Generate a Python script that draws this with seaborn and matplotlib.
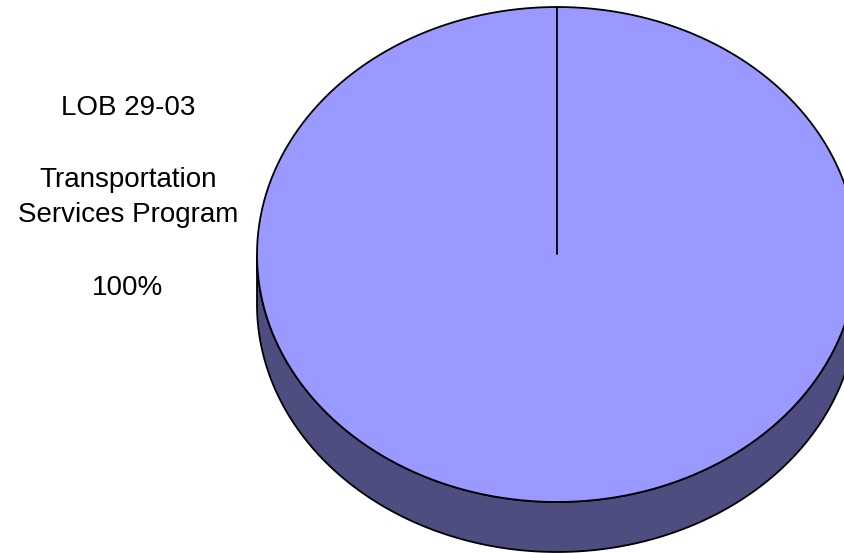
import numpy as np
import matplotlib
matplotlib.use("Agg")
import matplotlib.pyplot as plt
import seaborn as sns

# ---- data ----
lob_codes = ["LOB 29-03"]
programs = ["Transportation\nServices Program"]
values = [100]
top_colors = ["#9999FF"]
side_colors = ["#4D4D80"]

sns.set_theme(style="white")
plt.rcParams["font.family"] = ["Liberation Sans", "DejaVu Sans"]

W, H = 845, 553
fig = plt.figure(figsize=(W / 100, H / 100), dpi=100)
fig.patch.set_facecolor("white")
ax = fig.add_axes([0, 0, 1, 1])

# ellipse geometry (pixels)
cx, cy = 557, 254.5
rx, ry = 300, 247.5
depth = 50 / ry

# side of the 3D pie
t = np.linspace(np.pi, 2 * np.pi, 300)
xs = np.concatenate([np.cos(t), np.cos(t[::-1])])
ys = np.concatenate([np.sin(t) - depth, np.sin(t[::-1])])
ax.fill(xs, ys, facecolor=side_colors[0], edgecolor="black", linewidth=1.3, zorder=1)

# top face
wedges, _ = ax.pie(values, colors=top_colors, startangle=90, counterclock=False,
                   radius=1, wedgeprops=dict(edgecolor="none", linewidth=0))
for w in wedges:
    w.set_zorder(2)
tt = np.linspace(0, 2 * np.pi, 600)
ax.plot(np.cos(tt), np.sin(tt), color="black", linewidth=1.3, zorder=3)
# slice boundary at start angle (90 deg)
ang = np.deg2rad(90)
ax.plot([0, np.cos(ang)], [0, np.sin(ang)], color="black", linewidth=1.3, zorder=3)

ax.set_aspect("auto")
ax.set_xlim((0 - cx) / rx, (W - cx) / rx)
ax.set_ylim((cy - H) / ry, (cy - 0) / ry)
ax.axis("off")

# label
total = sum(values)
pct = f"{values[0] / total * 100:.0f}%"
label_lines = [(lob_codes[0], 108)] + \
    [(ln, y) for ln, y in zip(programs[0].split("\n"), [180, 215])] + [(pct, 288)]
for txt, py in label_lines:
    fig.text(128 / W, 1 - py / H, txt, ha="center", va="center",
             fontsize=20, color="black")

fig.savefig("out.png", dpi=100, facecolor="white")
